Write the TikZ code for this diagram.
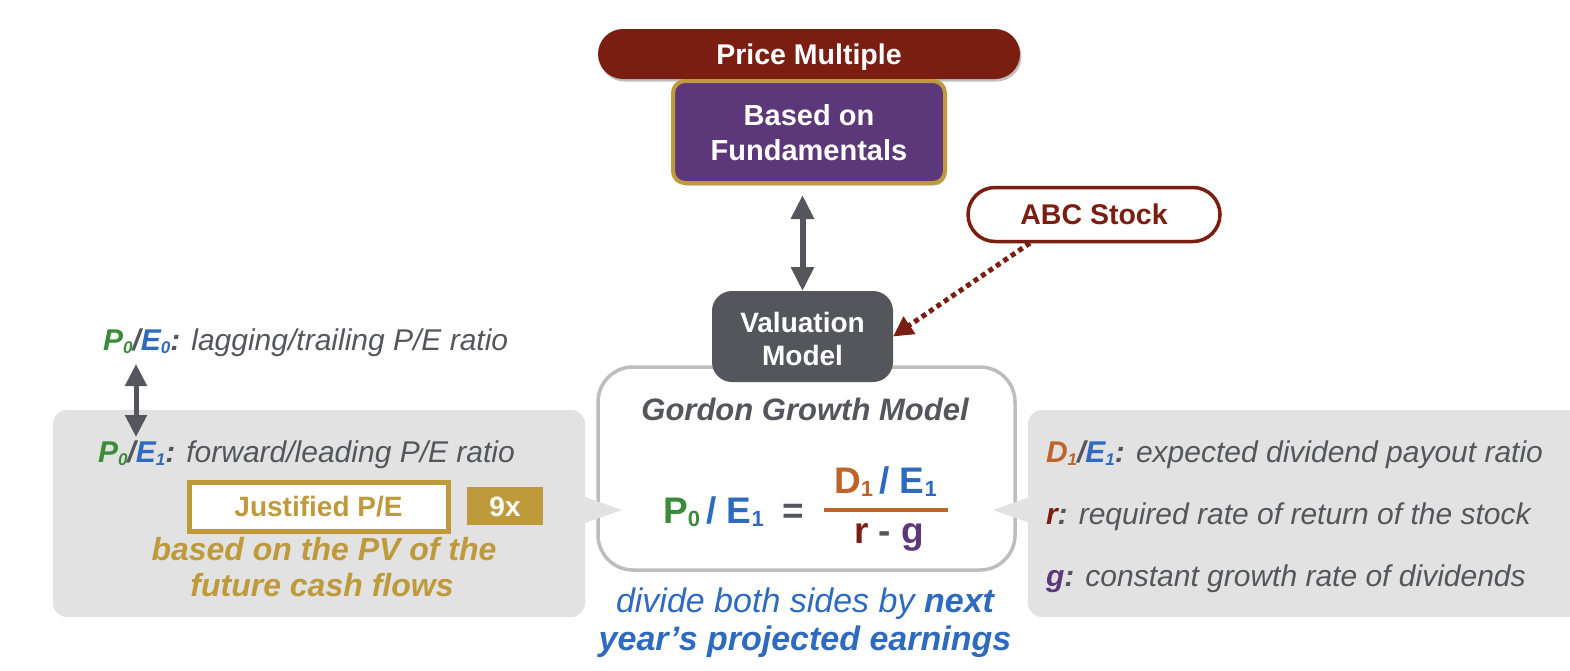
\documentclass[tikz,border=0pt]{standalone}
\usepackage{fontspec}
\setmainfont{Liberation Sans}
\usetikzlibrary{arrows.meta,shadows}
\definecolor{darkred}{HTML}{7B1E12}
\definecolor{ppurple}{HTML}{5C3779}
\definecolor{gold}{HTML}{BF9A3B}
\definecolor{vgray}{HTML}{54565C}
\definecolor{callgray}{HTML}{E1E2E1}
\definecolor{gborder}{HTML}{BDBDBD}
\definecolor{pgreen}{HTML}{3B8C3A}
\definecolor{pblue}{HTML}{2E6BBF}
\definecolor{porange}{HTML}{BF642A}
\newcommand\fs[2]{\fontsize{#1}{#2}\selectfont}
\newcommand\sbx[3]{\raisebox{-#2pt}{\fontsize{#1}{#1}\selectfont #3}}
\begin{document}
\begin{tikzpicture}[x=1pt,y=-1pt,
  every node/.style={inner sep=0pt,outer sep=0pt},
  shd/.style={drop shadow={shadow xshift=1.5pt,shadow yshift=-2.5pt,opacity=0.25,fill=black}},
  sidetxt/.style={anchor=base west,text=vgray,font=\fs{30}{34}\itshape},
  dblarrow/.style={draw=vgray,line width=6pt,{Triangle[width=22pt,length=24pt]}-{Triangle[width=22pt,length=24pt]}},
  dotarrow/.style={draw=darkred,line width=5pt,dash pattern=on 5pt off 4pt,-{Triangle[width=20pt,length=20pt]}}
]
\clip (0,0) rectangle (1570,670);
\fill[white] (0,0) rectangle (1570,670);

% callout boxes
\fill[callgray,rounded corners=14pt] (53,410) rectangle (585,617);
\fill[callgray,rounded corners=14pt] (1028,410) rectangle (1600,617);

% Gordon box
\node[draw=gborder,line width=3.5pt,fill=white,rounded corners=35pt,minimum width=417pt,minimum height=203pt] (gordon) at (806.5,468.5) {};
% pointers
\fill[callgray] (585,497) -- (622,510) -- (585,523) -- cycle;
\fill[callgray] (1030,497) -- (993,510) -- (1030,523) -- cycle;

% top boxes
\node[shd,fill=darkred,rounded corners=25pt,minimum width=422pt,minimum height=50pt,text=white,font=\fs{28.5}{34}\bfseries,text height=20.4pt,text depth=0pt] (pm) at (809,54) {Price Multiple};
\node[shd,fill=ppurple,draw=gold,line width=4pt,rounded corners=12pt,minimum width=272pt,minimum height=102pt] (fund) at (809,132) {};
\node[anchor=base,text=white,font=\fs{29}{35}\bfseries] (fundt1) at (809,125.5) {Based on};
\node[anchor=base,text=white,font=\fs{29}{35}\bfseries] (fundt2) at (809,160.5) {Fundamentals};
\node[draw=darkred,line width=3.5pt,fill=white,rounded corners=27pt,minimum width=252pt,minimum height=54pt,text=darkred,font=\fs{28.5}{33}\bfseries,text height=20.4pt,text depth=0pt] (abc) at (1094,214.5) {ABC Stock};
\node[fill=vgray,rounded corners=20pt,minimum width=181pt,minimum height=91pt] (val) at (802.5,336.5) {};
\node[anchor=base,text=white,font=\fs{28}{33}\bfseries] (valt1) at (802.5,332) {Valuation};
\node[anchor=base,text=white,font=\fs{28}{33}\bfseries] (valt2) at (802.5,365) {Model};

% connectors
\draw[dblarrow,shorten >=12pt] (val.north) -- (val.north |- fund.south);
\coordinate (abcfoot) at (1030,243);
\draw[dotarrow] (abcfoot) -- (val.east);

% Gordon content
\node[anchor=base,text=vgray,font=\fs{31}{36}\bfseries\itshape] (gtitle) at (805,420) {Gordon Growth Model};
\node[anchor=base,font=\fs{37}{40}\bfseries] (lhs) at (713.5,523) {\color{pgreen}P\sbx{22}{3}{0}\,\color{pblue}/ E\sbx{22}{3}{1}};
\node[anchor=base,text=vgray,font=\fs{37}{40}\bfseries] (eq) at (793,523) {=};
\node[anchor=base,font=\fs{37}{40}\bfseries] (num) at (885.5,493) {\color{porange}D\sbx{22}{3}{1}\,\color{pblue}/ E\sbx{22}{3}{1}};
\coordinate (barL) at (824,510);
\coordinate (barR) at (948,510);
\draw[porange,line width=3.5pt] (barL) -- (barR);
\node[anchor=base,font=\fs{37}{40}\bfseries] (den) at (889,543) {\color{darkred}r \color{vgray}- \color{ppurple}g};
\node[anchor=base,text=pblue,font=\fs{34}{38}\itshape] (divide) at (805,612) {divide both sides by \textbf{next}};
\node[anchor=base,text=pblue,font=\fs{34}{38}\itshape\bfseries] (divide2) at (805,650) {year’s projected earnings};

% left side
\node[sidetxt] (lag) at (103,350) {{\bfseries\color{pgreen}P\sbx{17}{3}{0}\color{vgray}/\color{pblue}E\sbx{17}{3}{0}\color{vgray}:} lagging/trailing P/E ratio};
\node[sidetxt] (fwd) at (98,462) {{\bfseries\color{pgreen}P\sbx{17}{3}{0}\color{vgray}/\color{pblue}E\sbx{17}{3}{1}\color{vgray}:} forward/leading P/E ratio};
\coordinate (la1) at (136,364);
\coordinate (la2) at (136,437);
\draw[draw=vgray,line width=5pt,{Triangle[width=21pt,length=22pt]}-{Triangle[width=21pt,length=22pt]}] (la1) -- (la2);
\node[draw=gold,line width=5pt,fill=white,minimum width=259pt,minimum height=49pt,text=gold,font=\fs{28}{30}\bfseries,text height=20pt,text depth=0pt] (just) at (318.5,506.5) {Justified P/E};
\node[fill=gold,minimum width=76pt,minimum height=38pt,text=white,font=\fs{28}{30}\bfseries,text height=20pt,text depth=0pt] (nine) at (505,506) {9x};
\node[anchor=base,text=gold,font=\fs{32}{36}\bfseries\itshape] (pv1) at (324,560) {based on the PV of the};
\node[anchor=base,text=gold,font=\fs{32}{36}\bfseries\itshape] (pv2) at (322,596) {future cash flows};

% right side
\node[sidetxt] (dpr) at (1046,462) {{\bfseries\color{porange}D\sbx{17}{3}{1}\color{vgray}/\color{pblue}E\sbx{17}{3}{1}\color{vgray}:} expected dividend payout ratio};
\node[sidetxt] (rr) at (1046,524) {{\bfseries\color{darkred}r\color{vgray}:} required rate of return of the stock};
\node[sidetxt] (gg) at (1046,586) {{\bfseries\color{ppurple}g\color{vgray}:} constant growth rate of dividends};
\end{tikzpicture}
\end{document}
